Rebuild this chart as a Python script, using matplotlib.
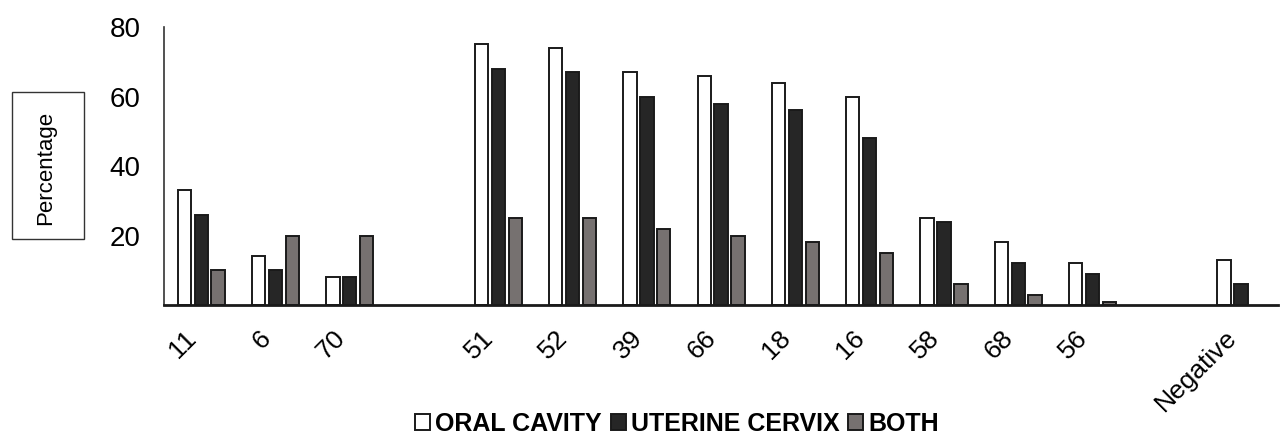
import numpy as np
import matplotlib
matplotlib.use("Agg")
import matplotlib.pyplot as plt
from matplotlib.patches import Rectangle

plt.rcParams["font.family"] = ["Liberation Sans", "DejaVu Sans"]

# "" = empty slot in the category axis
types = ["11", "6", "70", "", "51", "52", "39", "66", "18", "16", "58", "68", "56", "", "Negative"]
oral = [33, 14, 8, np.nan, 75, 74, 67, 66, 64, 60, 25, 18, 12, np.nan, 13]
cervix = [26, 10, 8, np.nan, 68, 67, 60, 58, 56, 48, 24, 12, 9, np.nan, 6]
both = [10, 20, 20, np.nan, 25, 25, 22, 20, 18, 15, 6, 3, 1, np.nan, 0]
series = ["ORAL CAVITY", "UTERINE CERVIX", "BOTH"]
colors = ["white", "#262626", "#767170"]

fig = plt.figure(figsize=(12.82, 4.37), dpi=100)
ax = fig.add_axes([0.128, 0.302, 0.869, 0.636])

x = np.arange(len(types))
w = 0.18
off = 0.228
handles = []
for i, (vals, name, c) in enumerate(zip([oral, cervix, both], series, colors)):
    v = np.array(vals, dtype=float)
    keep = ~np.isnan(v) & (v > 0)
    b = ax.bar(x[keep] + (i - 1) * off, v[keep], w, color=c, edgecolor="#1a1a1a",
               linewidth=1.4, label=name)
    handles.append(b)

ax.set_xlim(-0.5, len(types) - 0.5)
ax.set_ylim(0, 80)
ax.set_yticks([20, 40, 60, 80])
ax.tick_params(axis="y", length=0, pad=17, labelsize=20)
tk = [i for i, t in enumerate(types) if t]
ax.set_xticks(tk)
ax.set_xticklabels([types[i] for i in tk], rotation=45, ha="right")
ax.tick_params(axis="x", length=0, pad=15, labelsize=19)

for s in ["top", "right"]:
    ax.spines[s].set_visible(False)
ax.spines["left"].set_linewidth(1.2)
ax.spines["left"].set_color("#333333")
ax.spines["bottom"].set_linewidth(2)
ax.spines["bottom"].set_color("#1a1a1a")

# boxed y label
fig.patches.append(Rectangle((12 / 1282, 1 - 239 / 437), 72 / 1282, 147 / 437,
                             transform=fig.transFigure, fill=False,
                             edgecolor="#333333", linewidth=1))
fig.text(46 / 1282, 1 - 168 / 437, "Percentage", rotation=90, ha="center",
         va="center", fontsize=16)

fig.legend(handles=handles, loc="center", bbox_to_anchor=(0.528, 0.03), ncol=3,
           frameon=False, handlelength=0.6, handleheight=0.6, handletextpad=0.2,
           columnspacing=0.35, prop={"weight": "bold", "size": 18})

fig.savefig("out.png", dpi=100)
